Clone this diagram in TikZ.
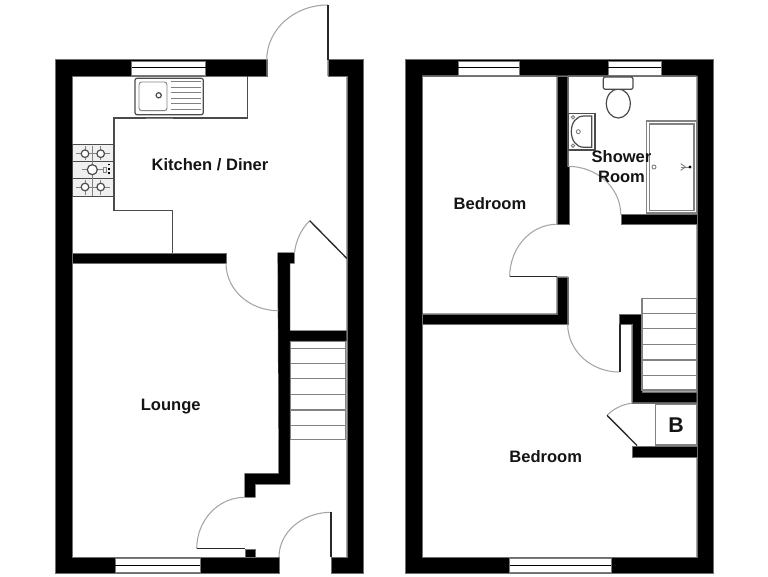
\documentclass[tikz,border=0pt]{standalone}
\usepackage{fontspec}
\setmainfont{Liberation Sans}
\tikzset{every picture/.style={line width=0.75pt}}
\tikzset{wall/.style={fill=black,draw={rgb, 255:red, 110; green, 110; blue, 110 },line width=0.3pt}}
\tikzset{glazing/.style={fill=white,draw={rgb, 255:red, 120; green, 120; blue, 120 },line width=0.6pt}}
\tikzset{swing/.style={draw={rgb, 255:red, 165; green, 165; blue, 165 },line width=0.8pt}}
\tikzset{leaf/.style={draw={rgb, 255:red, 40; green, 40; blue, 40 },line width=1pt}}
\tikzset{fitting/.style={draw={rgb, 255:red, 75; green, 75; blue, 75 },line width=0.9pt}}
\tikzset{tread/.style={draw={rgb, 255:red, 130; green, 130; blue, 130 },line width=0.85pt}}
\tikzset{pale/.style={draw={rgb, 255:red, 130; green, 130; blue, 130 },line width=0.7pt}}
\tikzset{roomlabel/.style={inner sep=0.75pt,align=center,font=\bfseries\fontsize{12.4}{15}\selectfont,text={rgb, 255:red, 20; green, 20; blue, 20 }}}

\begin{document}
\begin{tikzpicture}[x=0.75pt,y=0.75pt,yscale=-1,xscale=1]
\useasboundingbox (0,0) rectangle (768,576);

%Walls: ground floor
\draw [wall] (266.7,59.5) -- (55.5,59.5) -- (55.5,573.3) -- (279,573.3) -- (279,557.3) -- (72,557.3) -- (72,76) -- (266.7,76) -- cycle ;
\draw [wall] (327.7,59.5) -- (363.5,59.5) -- (363.5,573.3) -- (331,573.3) -- (331,557.3) -- (346.7,557.3) -- (346.7,76) -- (327.7,76) -- cycle ;
\draw [wall] (72,252.7) -- (226,252.7) -- (226,263.3) -- (72,263.3) -- cycle ;
\draw [wall] (277.7,252.7) -- (294.3,252.7) -- (294.3,263.3) -- (290,263.3) -- (290,330.7) -- (346.7,330.7) -- (346.7,341) -- (290,341) -- (290,484.3) -- (255.3,484.3) -- (255.3,497.3) -- (244.7,497.3) -- (244.7,473.3) -- (278.7,473.3) -- cycle ;
\draw [wall] (244.7,548.7) -- (255.3,548.7) -- (255.3,557.3) -- (244.7,557.3) -- cycle ;

%Windows: ground floor
\draw [glazing] (131.7,61) -- (205.7,61) -- (205.7,75) -- (131.7,75) -- cycle ;
\draw [black] (131.7,67.7) -- (205.7,67.7) ;
\draw [glazing] (115,558.5) -- (200,558.5) -- (200,572.5) -- (115,572.5) -- cycle ;
\draw [black] (115,565.3) -- (200,565.3) ;

%Doors: ground floor
\draw [swing] (266.7,60) arc[start angle=180,end angle=270,x radius=61,y radius=55] ;
\draw [leaf] (328,5) -- (328,60) ;
\draw [swing] (226,263.3) arc[start angle=180,end angle=90,x radius=52.3,y radius=47.4] ;
\draw [swing] (244.7,497.3) arc[start angle=270,end angle=180,x radius=48,y radius=51.4] ;
\draw [leaf] (197,548.7) -- (245,548.7) ;
\draw [swing] (331,512.3) arc[start angle=270,end angle=180,x radius=52,y radius=44.7] ;
\draw [leaf] (331,512.3) -- (331,557.3) ;
\draw [swing] (309.7,220.7) arc[start angle=225,end angle=186,radius=52.5] ;
\draw [leaf] (309.7,220.7) -- (346.7,258.3) ;

%Worktop
\draw [fitting] (247.3,76) -- (247.3,118) -- (114,118) -- (114,210.3) -- (172.7,210.3) -- (172.7,253) ;
\draw [pale] (145.7,118.6) -- (173.3,118.6) ;

%Sink
\draw [fitting,rounded corners=1.5] (135,78.3) -- (203.3,78.3) -- (203.3,114.7) -- (135,114.7) -- cycle ;
\draw [pale,rounded corners=2] (139,82) -- (167,82) -- (167,110.7) -- (139,110.7) -- cycle ;
\draw [fitting] (158.7,95.3) circle (2.6) ;
\draw [pale] (170.7,81.7) -- (200.7,81.7) ;
\draw [pale] (170.7,87.3) -- (200.7,87.3) ;
\draw [pale] (170.7,92.7) -- (200.7,92.7) ;
\draw [pale] (170.7,98.3) -- (200.7,98.3) ;
\draw [pale] (170.7,103.3) -- (200.7,103.3) ;
\draw [pale] (170.7,109) -- (200.7,109) ;

%Hob
\draw [fitting,fill={rgb, 255:red, 240; green, 240; blue, 240 }] (72.7,144.7) -- (113.3,144.7) -- (113.3,196.3) -- (72.7,196.3) -- cycle ;
\draw [fitting] (72.7,161.3) -- (113.3,161.3) ;
\draw [fitting] (72.7,178.3) -- (113.3,178.3) ;
\draw [pale] (76,153.7) -- (110,153.7) ;
\draw [pale] (76,187) -- (110,187) ;
\draw [pale] (85,146) -- (85,160) ;
\draw [pale] (100.7,146) -- (100.7,160) ;
\draw [pale] (85,179.5) -- (85,195) ;
\draw [pale] (100.7,179.5) -- (100.7,195) ;
\draw [pale] (92.3,146) -- (92.3,196) ;
\draw [pale] (82,169.7) -- (103,169.7) ;
\draw [fitting,fill=white] (85,153.7) circle (3.8) ;
\draw [fitting,fill=white] (100.7,153.7) circle (3.8) ;
\draw [fitting,fill=white] (92.3,169.7) circle (5) ;
\draw [fitting,fill=white] (85,187) circle (3.8) ;
\draw [fitting,fill=white] (100.7,187) circle (3.8) ;
\draw [pale] (103.5,167) -- (106,167) -- (106,172) -- (103.5,172) -- cycle ;
\draw [black,dotted,line width=1.1pt] (109,164) -- (109,175.5) ;

%Stairs: ground floor
\draw [tread] (290.7,341.3) -- (345.3,341.3) -- (345.3,439.3) -- (290.7,439.3) -- cycle ;
\draw [tread] (290.7,348.3) -- (345.3,348.3) ;
\draw [tread] (290.7,363.3) -- (345.3,363.3) ;
\draw [tread] (290.7,378.7) -- (345.3,378.7) ;
\draw [tread] (290.7,394.3) -- (345.3,394.3) ;
\draw [tread] (290.7,410) -- (345.3,410) ;
\draw [tread] (290.7,425.3) -- (345.3,425.3) ;

%Walls: first floor
\draw [wall,even odd rule] (405.3,59.3) -- (713.3,59.3) -- (713.3,573.3) -- (405.3,573.3) -- cycle (422,75.7) -- (696.7,75.7) -- (696.7,557.3) -- (422,557.3) -- cycle ;
\draw [wall] (556.7,75.7) -- (567.7,75.7) -- (567.7,166.3) -- (569,166.3) -- (569,224.3) -- (556.7,224.3) -- cycle ;
\draw [wall] (556.7,276.7) -- (567.7,276.7) -- (567.7,324.3) -- (422,324.3) -- (422,313.7) -- (556.7,313.7) -- cycle ;
\draw [wall] (620.7,214.3) -- (696.7,214.3) -- (696.7,224.3) -- (620.7,224.3) -- cycle ;
\draw [wall] (619.3,314) -- (642,314) -- (642,391.7) -- (696.7,391.7) -- (696.7,402.7) -- (631.7,402.7) -- (631.7,324.3) -- (619.3,324.3) -- cycle ;
\draw [wall] (631.7,445.7) -- (696.7,445.7) -- (696.7,456.7) -- (631.7,456.7) -- cycle ;

%Windows: first floor
\draw [glazing] (458.3,61) -- (519.3,61) -- (519.3,75) -- (458.3,75) -- cycle ;
\draw [black] (458.3,67.3) -- (519.3,67.3) ;
\draw [glazing] (608.3,61) -- (661.3,61) -- (661.3,75) -- (608.3,75) -- cycle ;
\draw [black] (608.3,67.3) -- (661.3,67.3) ;
\draw [glazing] (509.7,558.5) -- (611,558.5) -- (611,572.5) -- (509.7,572.5) -- cycle ;
\draw [black] (509.7,565.3) -- (611,565.3) ;

%Doors: first floor
\draw [swing] (556.7,224.3) arc[start angle=270,end angle=180,x radius=47,y radius=52.4] ;
\draw [leaf] (509.7,276.7) -- (556.7,276.7) ;
\draw [swing] (567.7,166.3) arc[start angle=270,end angle=360,x radius=53,y radius=48] ;
\draw [swing] (567.7,324.3) arc[start angle=180,end angle=90,x radius=51.6,y radius=47.7] ;
\draw [leaf] (620,324.3) -- (620,372) ;
\draw [swing] (607,415.3) arc[start angle=225,end angle=263,radius=42.4] ;
\draw [leaf] (607,415.3) -- (637,445.5) ;

%Toilet
\draw [fitting] (618.3,103.5) ellipse (12 and 14.5) ;
\draw [fitting,fill=white,rounded corners=1.5] (603.3,77) -- (633,77) -- (633,89.3) -- (603.3,89.3) -- cycle ;

%Basin
\draw [fitting] (568.7,113.3) -- (595,113.3) -- (595,150) -- (568.7,150) -- cycle ;
\draw [fitting] (591.7,116) -- (591.7,147.3) -- (584,147.3) .. controls (576,147.3) and (571.3,140) .. (571.3,131.5) .. controls (571.3,123) and (576,116) .. (584,116) -- cycle ;
\draw [pale,fill=white] (573,117.3) circle (1.7) ;
\draw [pale,fill=white] (573,145.7) circle (1.7) ;
\draw [pale] (578.3,131.7) circle (2) ;

%Shower
\draw [tread] (646.7,121) -- (696.3,121) -- (696.3,213) -- (646.7,213) -- cycle ;
\draw [tread] (649.3,124) -- (694,124) -- (694,210.7) -- (649.3,210.7) -- cycle ;
\draw [pale] (654,167) circle (2) ;
\draw [pale] (680.7,163.7) -- (685.5,167) -- (680.7,170.3) ;
\draw [pale] (680.7,167) -- (690,167) ;
\draw [black,fill=black] (690,167) circle (1) ;

%Stairs: first floor
\draw [tread] (642,298.7) -- (696.3,298.7) -- (696.3,390) -- (642,390) -- cycle ;
\draw [tread] (642,313.3) -- (696.3,313.3) ;
\draw [tread] (642,328.7) -- (696.3,328.7) ;
\draw [tread] (642,344.3) -- (696.3,344.3) ;
\draw [tread] (642,360) -- (696.3,360) ;
\draw [tread] (642,375.3) -- (696.3,375.3) ;

%Boiler cupboard
\draw [tread] (655.7,404.7) -- (696.7,404.7) -- (696.7,445) -- (655.7,445) -- cycle ;

% Text Node
\draw (210,165) node (kitchenDiner) [roomlabel] {Kitchen / Diner};
% Text Node
\draw (170.7,406.5) node (lounge) [roomlabel] {Lounge};
% Text Node
\draw (490,204) node (bedroomBack) [roomlabel] {Bedroom};
% Text Node
\draw (545.7,456.7) node (bedroomFront) [roomlabel] {Bedroom};
% Text Node
\draw (621.5,166.5) node (showerRoom) [roomlabel] {Shower\\Room};
% Text Node
\draw (676,425.3) node (boiler) [roomlabel,font=\bfseries\fontsize{16}{18}\selectfont] {B};

\end{tikzpicture}
\end{document}
